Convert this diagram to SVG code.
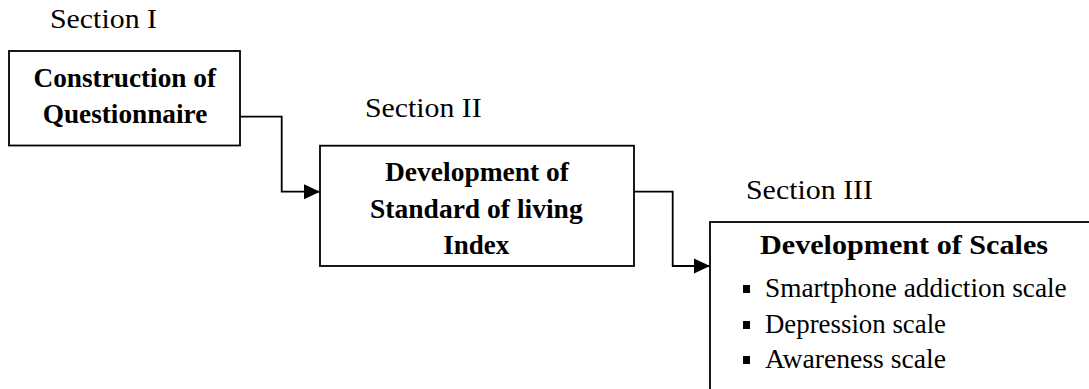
<svg xmlns="http://www.w3.org/2000/svg" width="1089" height="389" viewBox="0 0 1089 389">
<style>
  .box { fill: #ffffff; stroke: #000000; stroke-width: 1.8; }
  .conn { fill: none; stroke: #000000; stroke-width: 1.8; }
  .lbl { font-family: "Liberation Serif", "Times New Roman", serif; font-size: 28px; fill: #000000; }
  .b { font-weight: bold; }
  .bullet { fill: #000000; }
</style>
<defs>
  <marker id="arrow" markerUnits="userSpaceOnUse" markerWidth="16" markerHeight="16" viewBox="0 0 14 14" refX="14" refY="7" orient="auto">
    <polygon points="0,0.5 14,7 0,13.5" fill="#000000"/>
  </marker>
</defs>
<rect width="1089" height="389" fill="#ffffff"/>
<g id="connectors">
  <path class="conn" d="M240,116.7 H281.7 V191.7 H320" marker-end="url(#arrow)"/>
  <path class="conn" d="M634,191.7 H672.7 V266 H710" marker-end="url(#arrow)"/>
</g>
<g id="section1">
  <text class="lbl" x="50" y="28" textLength="107" lengthAdjust="spacingAndGlyphs">Section I</text>
  <rect class="box" x="9" y="51" width="231" height="94.5"/>
  <text class="lbl b" x="33.5" y="87" textLength="182.5" lengthAdjust="spacingAndGlyphs">Construction of</text>
  <text class="lbl b" x="42.7" y="123" textLength="164.6" lengthAdjust="spacingAndGlyphs">Questionnaire</text>
</g>
<g id="section2">
  <text class="lbl" x="365" y="117" textLength="116.7" lengthAdjust="spacingAndGlyphs">Section II</text>
  <rect class="box" x="320" y="145.7" width="314" height="120.3"/>
  <text class="lbl b" x="385" y="181" textLength="184" lengthAdjust="spacingAndGlyphs">Development of</text>
  <text class="lbl b" x="370" y="218" textLength="212.7" lengthAdjust="spacingAndGlyphs">Standard of living</text>
  <text class="lbl b" x="443.3" y="254" textLength="66" lengthAdjust="spacingAndGlyphs">Index</text>
</g>
<g id="section3">
  <text class="lbl" x="746" y="199" textLength="127" lengthAdjust="spacingAndGlyphs">Section III</text>
  <rect class="box" x="710" y="222" width="400" height="200"/>
  <text class="lbl b" x="760" y="254" textLength="288" lengthAdjust="spacingAndGlyphs">Development of Scales</text>
  <rect class="bullet" x="743" y="285" width="7" height="8"/>
  <text class="lbl" x="765" y="297" textLength="301.7" lengthAdjust="spacingAndGlyphs">Smartphone addiction scale</text>
  <rect class="bullet" x="743" y="321" width="7" height="8"/>
  <text class="lbl" x="765" y="333" textLength="181" lengthAdjust="spacingAndGlyphs">Depression scale</text>
  <rect class="bullet" x="743" y="356" width="7" height="8"/>
  <text class="lbl" x="765" y="368" textLength="181" lengthAdjust="spacingAndGlyphs">Awareness scale</text>
</g>
</svg>
